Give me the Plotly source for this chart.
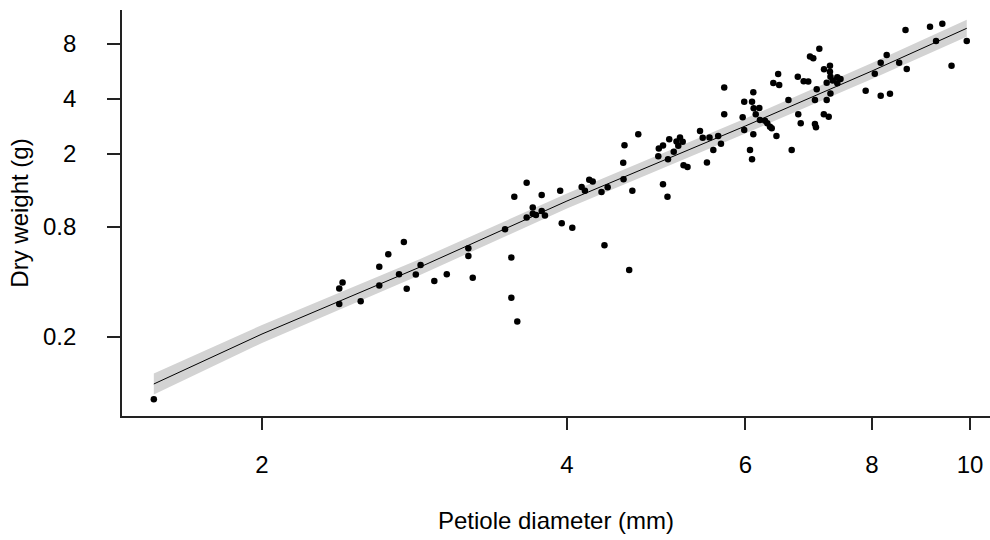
import plotly.graph_objects as go

# Petiole diameter (mm) and dry weight (g) for each leaf
diam = [1.564, 2.384, 2.402, 2.384, 2.503, 2.611, 2.611, 2.665, 2.761, 2.731,
        2.779, 2.837, 2.868, 2.959, 3.044, 3.197, 3.197, 3.229, 3.475, 3.525,
        3.525, 3.573, 3.549, 3.650, 3.650, 3.701, 3.701, 3.728, 3.777, 3.777,
        3.805, 3.939, 3.953, 4.049, 4.136, 4.167, 4.208, 4.241, 4.327, 4.388,
        4.356, 4.546, 4.549, 4.559, 4.608, 4.641, 4.704, 4.923, 4.929, 4.976,
        4.976, 5.027, 5.033, 5.047, 5.099, 5.152, 5.172, 5.204, 5.214, 5.261,
        5.413, 5.446, 5.499, 5.531, 5.579, 5.641, 5.677, 5.719, 5.719, 5.964,
        5.985, 5.985, 6.064, 6.092, 6.110, 6.092, 6.115, 6.194, 6.144, 6.110,
        6.203, 6.274, 6.307, 6.346, 6.371, 6.440, 6.394, 6.465, 6.480, 6.618,
        6.667, 6.760, 6.767, 6.805, 6.851, 6.923, 6.950, 7.002, 7.029, 7.029,
        7.045, 7.057, 7.099, 7.175, 7.219, 7.219, 7.172, 7.252, 7.273, 7.273,
        7.281, 7.281, 7.318, 7.395, 7.449, 7.395, 7.888, 8.053, 8.162, 8.162,
        8.274, 8.336, 8.512, 8.635, 8.660, 9.130, 9.256, 9.389, 9.588, 9.925,
        5.131]

weight = [0.0909, 0.367, 0.396, 0.302, 0.313, 0.483, 0.381, 0.565, 0.660, 0.439,
          0.366, 0.438, 0.494, 0.404, 0.439, 0.609, 0.553, 0.421, 0.774, 0.543,
          0.327, 0.242, 1.168, 1.393, 0.898, 1.019, 0.942, 0.927, 1.193, 0.975,
          0.921, 1.259, 0.836, 0.789, 1.319, 1.259, 1.447, 1.414, 1.239, 1.316,
          0.634, 1.792, 1.454, 2.232, 0.464, 1.259, 2.564, 1.943, 2.144, 2.227,
          1.367, 1.168, 1.871, 2.410, 2.059, 2.218, 2.462, 2.335, 1.734, 1.698,
          2.672, 2.456, 1.797, 2.462, 2.104, 2.509, 2.274, 4.623, 3.303, 3.177,
          3.863, 2.706, 2.104, 1.871, 4.351, 3.868, 3.557, 3.571, 3.303, 2.564,
          3.070, 3.043, 2.945, 2.821, 2.765, 2.509, 4.895, 5.481, 4.773, 3.951,
          2.104, 5.298, 3.298, 2.945, 5.001, 4.988, 6.834, 6.680, 3.951, 2.919,
          2.800, 4.524, 7.530, 5.816, 4.914, 3.951, 3.298, 3.201, 6.085, 5.642,
          5.298, 4.286, 5.050, 5.258, 5.147, 4.876, 4.434, 5.495, 6.312, 4.170,
          6.964, 4.269, 6.320, 9.544, 5.838, 9.936, 8.308, 10.32, 6.078, 8.308,
          2.341]

# Fitted allometric line and its confidence band
fit_x = [1.564, 2.0, 2.865, 4.0, 6.0, 8.0, 9.925]
fit_y = [0.1102, 0.2069, 0.4814, 1.106, 2.846, 5.691, 9.75]
band_lo = [0.0965, 0.1847, 0.4352, 1.006, 2.589, 5.145, 8.759]
band_hi = [0.1258, 0.2317, 0.5325, 1.216, 3.128, 6.295, 10.85]

x_ticks = [2, 4, 6, 8, 10]
y_ticks = [0.2, 0.8, 2, 4, 8]

FONT = "Liberation Sans, Arial, sans-serif"

fig = go.Figure()

fig.add_trace(go.Scatter(
    x=fit_x + fit_x[::-1],
    y=band_hi + band_lo[::-1],
    fill="toself",
    fillcolor="#d3d3d3",
    line=dict(width=0),
    mode="lines",
    hoverinfo="skip",
))

fig.add_trace(go.Scatter(
    x=fit_x, y=fit_y,
    mode="lines",
    line=dict(color="black", width=1),
    hoverinfo="skip",
))

fig.add_trace(go.Scatter(
    x=diam, y=weight,
    mode="markers",
    marker=dict(color="black", size=6.5, line=dict(width=0)),
))

fig.update_layout(
    width=990, height=540,
    margin=dict(l=122, r=0, t=10, b=124),
    plot_bgcolor="white",
    paper_bgcolor="white",
    showlegend=False,
    font=dict(family=FONT, size=24, color="black"),
)

fig.update_xaxes(
    type="log",
    range=[0.16283, 1.01969],
    tickvals=x_ticks,
    ticktext=[str(v) for v in x_ticks],
    ticks="outside", ticklen=12, tickwidth=1.5, tickcolor="#222",
    showline=True, linecolor="#222", linewidth=1.6,
    showgrid=False, zeroline=False,
    tickfont=dict(family=FONT, size=24, color="black"),
    ticklabelstandoff=14,
    title=dict(text="Petiole diameter (mm)", standoff=36,
               font=dict(family=FONT, size=24, color="black")),
)

fig.update_yaxes(
    type="log",
    range=[-1.13303, 1.08919],
    tickvals=y_ticks,
    ticktext=[str(v) for v in y_ticks],
    ticks="outside", ticklen=13, tickwidth=1.5, tickcolor="#222",
    showline=True, linecolor="#222", linewidth=1.6,
    showgrid=False, zeroline=False,
    tickfont=dict(family=FONT, size=24, color="black"),
    ticklabelstandoff=26,
    title=dict(text="Dry weight (g)", standoff=8,
               font=dict(family=FONT, size=24, color="black")),
)

fig.write_html("out.html", config={"displayModeBar": False})
